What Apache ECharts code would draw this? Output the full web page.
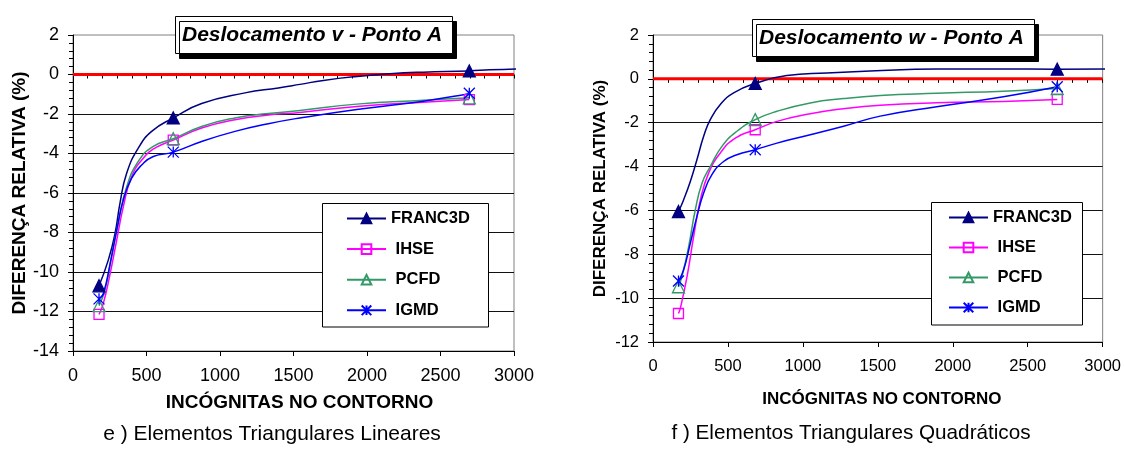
<!DOCTYPE html>
<html>
<head>
<meta charset="utf-8">
<title>Deslocamento - Ponto A</title>
<script src="https://cdn.jsdelivr.net/npm/echarts@6/dist/echarts.min.js"></script>
<style>
  html, body { margin: 0; padding: 0; background: #fff; }
  #chart { width: 1124px; height: 450px; }
</style>
</head>
<body>
<div id="chart"></div>
<script>
// Series names, in legend order
const methods = ['FRANC3D', 'IHSE', 'PCFD', 'IGMD'];

// e) linear triangular elements - displacement v, point A: [unknowns, relative difference %]
const vFranc3d = [[177,-10.7],[240,-9.4],[286,-8.05],[320,-6.5],[365,-5.0],[444,-3.73],[535,-2.88],[682,-2.2],[875,-1.47],[1170,-0.93],[1397,-0.68],[1544,-0.5],[1703,-0.3],[1930,-0.1],[2156,0.04],[2383,0.12],[2696,0.18],[2837,0.24],[3052,0.29]];
const vIhse = [[177,-12.15],[206,-11.6],[252,-10.1],[297,-8.4],[342,-6.7],[399,-5.17],[478,-4.24],[569,-3.68],[682,-3.32],[875,-2.71],[1102,-2.29],[1329,-2.05],[1544,-1.92],[1930,-1.62],[2383,-1.4],[2696,-1.27]];
const vPcfd = [[177,-11.7],[218,-10.9],[263,-9.2],[308,-7.5],[365,-5.7],[444,-4.4],[546,-3.64],[682,-3.25],[875,-2.63],[1102,-2.2],[1329,-1.98],[1544,-1.82],[1930,-1.5],[2383,-1.3],[2696,-1.18]];
const vIgmd = [[177,-11.36],[206,-11.1],[252,-9.6],[297,-7.9],[342,-6.36],[399,-5.25],[467,-4.58],[546,-4.15],[682,-3.93],[875,-3.39],[1102,-2.88],[1329,-2.49],[1544,-2.2],[1930,-1.77],[2383,-1.35],[2666,-1.01],[2696,-0.95]];
const vMarkedX = [177, 682, 2696];

// f) quadratic triangular elements - displacement w, point A
const wFranc3d = [[170,-6.05],[204,-5.52],[249,-4.68],[293,-3.69],[338,-2.62],[382,-1.86],[449,-1.17],[538,-0.64],[682,-0.21],[893,0.15],[1160,0.27],[1449,0.36],[1893,0.45],[2293,0.45],[2697,0.44],[3022,0.45]];
const wIhse = [[170,-10.7],[182,-10.47],[227,-9.02],[271,-7.2],[316,-5.52],[371,-4.3],[449,-3.38],[549,-2.7],[682,-2.32],[827,-1.94],[1049,-1.59],[1271,-1.36],[1516,-1.2],[1893,-1.09],[2338,-1.03],[2697,-0.94]];
const wPcfd = [[170,-9.48],[193,-9.02],[238,-7.65],[282,-5.98],[327,-4.76],[382,-4.0],[460,-3.08],[560,-2.39],[682,-1.86],[827,-1.48],[1049,-1.1],[1271,-0.9],[1516,-0.76],[1893,-0.66],[2338,-0.56],[2697,-0.44]];
const wIgmd = [[170,-9.22],[204,-8.72],[249,-7.5],[293,-6.28],[338,-5.21],[393,-4.37],[471,-3.77],[560,-3.46],[682,-3.23],[827,-2.93],[1049,-2.55],[1271,-2.16],[1516,-1.7],[1893,-1.27],[2338,-0.82],[2697,-0.36]];
const wMarkedX = [170, 682, 2697];

// Text
const titleV = 'Deslocamento v - Ponto A';
const titleW = 'Deslocamento w - Ponto A';
const xName = 'INCÓGNITAS NO CONTORNO';
const yName = 'DIFERENÇA RELATIVA (%)';
const captionE = 'e ) Elementos Triangulares Lineares';
const captionF = 'f ) Elementos Triangulares Quadráticos';

const FONT = '"Liberation Sans", Arial, Helvetica, sans-serif';

const styles = {
  FRANC3D: { color: '#000080', symbol: 'triangle', size: 12, fill: '#000080' },
  IHSE:    { color: '#FF00FF', symbol: 'rect', size: 10, fill: 'rgba(255,255,255,0)' },
  PCFD:    { color: '#339966', symbol: 'triangle', size: 12, fill: 'rgba(255,255,255,0)' },
  IGMD:    { color: '#0000FF', symbol: 'path://M0,0L10,10M10,0L0,10M5,0L5,10', size: 11, fill: 'rgba(255,255,255,0)' }
};

// Only the computed points carry a marker; the rest of each curve is plain line
function curveData(points, marked) {
  return points.map(function (p) {
    return marked.indexOf(p[0]) >= 0 ? { value: p } : { value: p, symbol: 'none' };
  });
}

function methodSeries(name, points, marked, axisIdx) {
  const s = styles[name];
  return {
    type: 'line', name: name,
    xAxisIndex: axisIdx, yAxisIndex: axisIdx,
    data: curveData(points, marked),
    smooth: 0.5,
    symbol: s.symbol, symbolSize: s.size, showSymbol: true,
    clip: false,
    lineStyle: { color: s.color, width: 1.5 },
    itemStyle: { color: s.fill, borderColor: s.color, borderWidth: 1.3 },
    emphasis: { disabled: true },
    z: 3
  };
}

function zeroLine(axisIdx) {
  return {
    type: 'line', name: 'zero', xAxisIndex: axisIdx, yAxisIndex: axisIdx,
    data: [[0, 0], [3000, 0]], symbol: 'none', silent: true,
    lineStyle: { color: '#FF0000', width: 3 }, z: 2
  };
}

function plain(v) { return String(v); }

function mainX(grid, fs, nfs, gap, pad) {
  return {
    type: 'value', gridIndex: grid, min: 0, max: 3000, interval: 500,
    axisLine: { onZero: false, lineStyle: { color: '#000', width: 1 } },
    axisTick: { length: 5, lineStyle: { color: '#000' } },
    axisLabel: { fontSize: fs, color: '#000', margin: 16, fontFamily: FONT, formatter: plain },
    splitLine: { show: false },
    name: xName, nameLocation: 'middle', nameGap: gap,
    nameTextStyle: { fontSize: nfs, fontWeight: 'bold', color: '#000', fontFamily: FONT, padding: [0, 0, 0, pad] }
  };
}
function minorX(grid) {
  return {
    type: 'value', gridIndex: grid, min: 0, max: 3000, interval: 100,
    axisLine: { show: false }, axisLabel: { show: false }, splitLine: { show: false },
    axisTick: { inside: true, length: 4, lineStyle: { color: '#000' } }
  };
}
function mainY(grid, min, fs, nfs, gap) {
  return {
    type: 'value', gridIndex: grid, min: min, max: 2, interval: 2,
    axisLine: { onZero: false, lineStyle: { color: '#000', width: 1 } },
    axisTick: { length: 5, lineStyle: { color: '#000' } },
    axisLabel: { fontSize: fs, color: '#000', margin: 14, fontFamily: FONT, formatter: plain },
    splitLine: { show: true, showMaxLine: false, lineStyle: { color: '#111', width: 1 } },
    name: yName, nameLocation: 'middle', nameRotate: 90, nameGap: gap,
    nameTextStyle: { fontSize: nfs, fontWeight: 'bold', color: '#000', fontFamily: FONT }
  };
}
function minorY(grid, min) {
  return {
    type: 'value', gridIndex: grid, min: min, max: 2, interval: 0.4,
    axisLine: { show: false }, axisLabel: { show: false }, splitLine: { show: false },
    axisTick: { inside: true, length: 4, lineStyle: { color: '#000' } }
  };
}

function titleBox(text, left, top) {
  return {
    text: text, left: left, top: top, padding: [8, 11, 8, 7],
    backgroundColor: '#fff', borderColor: '#000', borderWidth: 1,
    shadowColor: '#000', shadowOffsetX: 4, shadowOffsetY: 5, shadowBlur: 0,
    textStyle: { fontFamily: FONT, fontSize: 21, fontWeight: 'bold', fontStyle: 'italic', color: '#000', lineHeight: 22 }
  };
}

function legendBlock(left, top, gap) {
  return {
    data: methods, orient: 'vertical', left: left, top: top, padding: 0,
    itemWidth: 39, itemHeight: 12, itemGap: gap, selectedMode: false, z: 6,
    formatter: function (n) { return n === 'FRANC3D' ? n : ' ' + n; },
    textStyle: { fontFamily: FONT, fontSize: 16.5, fontWeight: 'bold', color: '#000', lineHeight: 17 }
  };
}

const option = {
  animation: false,
  backgroundColor: '#fff',
  title: [titleBox(titleV, 175, 16), titleBox(titleW, 752, 19)],
  grid: [
    { left: 73, top: 35, width: 441, height: 316, show: true, borderColor: '#808080', borderWidth: 1 },
    { left: 653, top: 35, width: 450, height: 307, show: true, borderColor: '#808080', borderWidth: 1 }
  ],
  xAxis: [mainX(0, 18, 19, 42, 12), minorX(0), mainX(1, 16.5, 17, 49, 8), minorX(1)],
  yAxis: [mainY(0, -14, 18, 19, 44), minorY(0, -14), mainY(1, -12, 16.5, 17, 44), minorY(1, -12)],
  legend: [legendBlock(346, 210, 13.6), legendBlock(948, 209, 13)],
  graphic: [
    { type: 'rect', z: 5, shape: { x: 322.5, y: 203.5, width: 166, height: 123.5 }, style: { fill: '#fff', stroke: '#000', lineWidth: 1 } },
    { type: 'rect', z: 5, shape: { x: 931.5, y: 202.5, width: 151, height: 122.5 }, style: { fill: '#fff', stroke: '#000', lineWidth: 1 } },
    { type: 'text', z: 5, x: 272, y: 434, style: { text: captionE, font: '21px ' + FONT, fill: '#000', align: 'center', verticalAlign: 'middle', textAlign: 'center', textVerticalAlign: 'middle' } },
    { type: 'text', z: 5, x: 851, y: 433, style: { text: captionF, font: '20.7px ' + FONT, fill: '#000', align: 'center', verticalAlign: 'middle', textAlign: 'center', textVerticalAlign: 'middle' } }
  ],
  series: [
    zeroLine(0),
    methodSeries('FRANC3D', vFranc3d, vMarkedX, 0),
    methodSeries('IHSE', vIhse, vMarkedX, 0),
    methodSeries('PCFD', vPcfd, vMarkedX, 0),
    methodSeries('IGMD', vIgmd, vMarkedX, 0),
    zeroLine(2),
    methodSeries('FRANC3D', wFranc3d, wMarkedX, 2),
    methodSeries('IHSE', wIhse, wMarkedX, 2),
    methodSeries('PCFD', wPcfd, wMarkedX, 2),
    methodSeries('IGMD', wIgmd, wMarkedX, 2)
  ]
};

const chart = echarts.init(document.getElementById('chart'), null, { renderer: 'canvas' });
chart.setOption(option);
</script>
</body>
</html>
